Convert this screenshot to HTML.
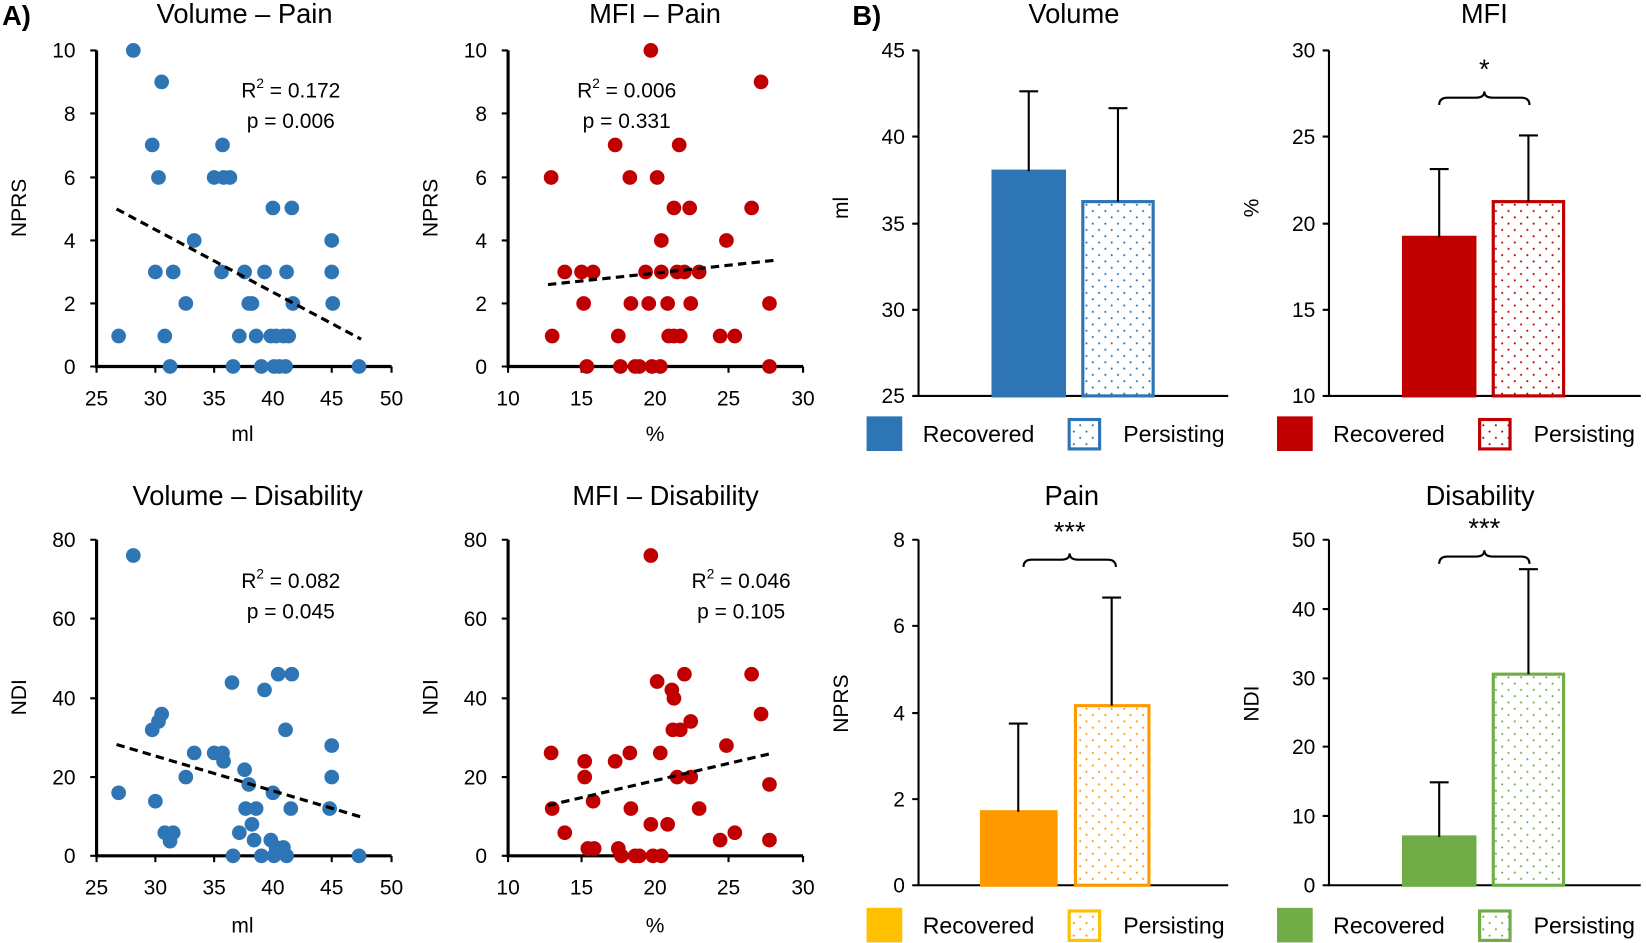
<!DOCTYPE html>
<html><head><meta charset="utf-8"><style>
html,body{margin:0;padding:0;background:#fff}
svg{display:block;font-family:"Liberation Sans",Arial,sans-serif}
</style></head><body>
<svg width="1646" height="943" viewBox="0 0 1568 898" preserveAspectRatio="none" xmlns="http://www.w3.org/2000/svg">
<defs>
<pattern id="pb" width="12" height="12" patternUnits="userSpaceOnUse"><circle cx="3" cy="3" r="1" fill="#2E75B6"/><circle cx="9" cy="9" r="1" fill="#2E75B6"/></pattern>
<pattern id="pr" width="12" height="12" patternUnits="userSpaceOnUse"><circle cx="3" cy="3" r="1" fill="#C00000"/><circle cx="9" cy="9" r="1" fill="#C00000"/></pattern>
<pattern id="po" width="12" height="12" patternUnits="userSpaceOnUse"><circle cx="3" cy="3" r="1" fill="#FF9900"/><circle cx="9" cy="9" r="1" fill="#FF9900"/></pattern>
<pattern id="pg" width="12" height="12" patternUnits="userSpaceOnUse"><circle cx="3" cy="3" r="1" fill="#70AD47"/><circle cx="9" cy="9" r="1" fill="#70AD47"/></pattern>
</defs>
<g font-size="26" fill="#000">
<text x="2" y="24" font-weight="bold">A)</text>
<text x="812" y="24" font-weight="bold">B)</text>
</g>
<g font-size="26" text-anchor="middle">
<text x="233" y="22">Volume – Pain</text>
<text x="624" y="22">MFI – Pain</text>
<text x="236" y="481">Volume – Disability</text>
<text x="634" y="481">MFI – Disability</text>
<text x="1023" y="22">Volume</text>
<text x="1414" y="22">MFI</text>
<text x="1021" y="481">Pain</text>
<text x="1410" y="481">Disability</text>
</g>

<g stroke="#000" stroke-width="3" fill="none">
<path d="M92 48V349H373"/><path d="M484 48V349H765"/>
<path d="M92 514V815H373"/><path d="M484 514V815H765"/>
</g>
<g stroke="#000" stroke-width="2">
<path d="M86 48h6M86 108h6M86 169h6M86 229h6M86 289h6M86 349h6"/>
<path d="M478 48h6M478 108h6M478 169h6M478 229h6M478 289h6M478 349h6"/>
<path d="M86 514h6M86 589h6M86 665h6M86 740h6M86 815h6"/>
<path d="M478 514h6M478 589h6M478 665h6M478 740h6M478 815h6"/>
<path d="M92 349v6M148 349v6M204 349v6M260 349v6M316 349v6M373 349v6"/>
<path d="M484 349v6M554 349v6M624 349v6M694 349v6M765 349v6"/>
<path d="M92 815v6M148 815v6M204 815v6M260 815v6M316 815v6M373 815v6"/>
<path d="M484 815v6M554 815v6M624 815v6M694 815v6M765 815v6"/>
</g>
<g font-size="20" text-anchor="end">
<text x="72" y="55">10</text><text x="72" y="115">8</text><text x="72" y="176">6</text><text x="72" y="236">4</text><text x="72" y="296">2</text><text x="72" y="356">0</text>
<text x="464" y="55">10</text><text x="464" y="115">8</text><text x="464" y="176">6</text><text x="464" y="236">4</text><text x="464" y="296">2</text><text x="464" y="356">0</text>
<text x="72" y="521">80</text><text x="72" y="596">60</text><text x="72" y="672">40</text><text x="72" y="747">20</text><text x="72" y="822">0</text>
<text x="464" y="521">80</text><text x="464" y="596">60</text><text x="464" y="672">40</text><text x="464" y="747">20</text><text x="464" y="822">0</text>
</g>
<g font-size="20" text-anchor="middle">
<text x="92" y="386">25</text><text x="148" y="386">30</text><text x="204" y="386">35</text><text x="260" y="386">40</text><text x="316" y="386">45</text><text x="373" y="386">50</text>
<text x="484" y="386">10</text><text x="554" y="386">15</text><text x="624" y="386">20</text><text x="694" y="386">25</text><text x="765" y="386">30</text>
<text x="92" y="852">25</text><text x="148" y="852">30</text><text x="204" y="852">35</text><text x="260" y="852">40</text><text x="316" y="852">45</text><text x="373" y="852">50</text>
<text x="484" y="852">10</text><text x="554" y="852">15</text><text x="624" y="852">20</text><text x="694" y="852">25</text><text x="765" y="852">30</text>
<text x="231" y="420">ml</text><text x="624" y="420">%</text>
<text x="231" y="888">ml</text><text x="624" y="888">%</text>
<text transform="translate(25,198) rotate(-90)">NPRS</text>
<text transform="translate(417,198) rotate(-90)">NPRS</text>
<text transform="translate(25,664) rotate(-90)">NDI</text>
<text transform="translate(417,664) rotate(-90)">NDI</text>
<text x="277" y="93">R<tspan font-size="13" dy="-9">2</tspan><tspan dy="9"> = 0.172</tspan></text>
<text x="277" y="122">p = 0.006</text>
<text x="597" y="93">R<tspan font-size="13" dy="-9">2</tspan><tspan dy="9"> = 0.006</tspan></text>
<text x="597" y="122">p = 0.331</text>
<text x="277" y="560">R<tspan font-size="13" dy="-9">2</tspan><tspan dy="9"> = 0.082</tspan></text>
<text x="277" y="589">p = 0.045</text>
<text x="706" y="560">R<tspan font-size="13" dy="-9">2</tspan><tspan dy="9"> = 0.046</tspan></text>
<text x="706" y="589">p = 0.105</text>
</g>

<g fill="#2E75B6">
<circle cx="113" cy="320" r="7"/><circle cx="127" cy="48" r="7"/><circle cx="154" cy="78" r="7"/><circle cx="145" cy="138" r="7"/><circle cx="151" cy="169" r="7"/><circle cx="148" cy="259" r="7"/><circle cx="157" cy="320" r="7"/><circle cx="162" cy="349" r="7"/><circle cx="165" cy="259" r="7"/><circle cx="177" cy="289" r="7"/><circle cx="185" cy="229" r="7"/><circle cx="204" cy="169" r="7"/><circle cx="213" cy="169" r="7"/><circle cx="219" cy="169" r="7"/><circle cx="212" cy="138" r="7"/><circle cx="211" cy="259" r="7"/><circle cx="222" cy="349" r="7"/><circle cx="228" cy="320" r="7"/><circle cx="233" cy="259" r="7"/><circle cx="237" cy="289" r="7"/><circle cx="240" cy="289" r="7"/><circle cx="244" cy="320" r="7"/><circle cx="249" cy="349" r="7"/><circle cx="252" cy="259" r="7"/><circle cx="260" cy="198" r="7"/><circle cx="258" cy="320" r="7"/><circle cx="263" cy="320" r="7"/><circle cx="261" cy="349" r="7"/><circle cx="266" cy="349" r="7"/><circle cx="270" cy="320" r="7"/><circle cx="272" cy="349" r="7"/><circle cx="273" cy="259" r="7"/><circle cx="278" cy="198" r="7"/><circle cx="279" cy="289" r="7"/><circle cx="275" cy="320" r="7"/><circle cx="316" cy="229" r="7"/><circle cx="316" cy="259" r="7"/><circle cx="317" cy="289" r="7"/><circle cx="342" cy="349" r="7"/>
<circle cx="113" cy="755" r="7"/><circle cx="127" cy="529" r="7"/><circle cx="145" cy="695" r="7"/><circle cx="151" cy="687" r="7"/><circle cx="154" cy="680" r="7"/><circle cx="148" cy="763" r="7"/><circle cx="157" cy="793" r="7"/><circle cx="162" cy="801" r="7"/><circle cx="165" cy="793" r="7"/><circle cx="185" cy="717" r="7"/><circle cx="177" cy="740" r="7"/><circle cx="204" cy="717" r="7"/><circle cx="212" cy="717" r="7"/><circle cx="213" cy="725" r="7"/><circle cx="221" cy="650" r="7"/><circle cx="228" cy="793" r="7"/><circle cx="222" cy="815" r="7"/><circle cx="233" cy="733" r="7"/><circle cx="237" cy="747" r="7"/><circle cx="234" cy="770" r="7"/><circle cx="240" cy="785" r="7"/><circle cx="242" cy="800" r="7"/><circle cx="244" cy="770" r="7"/><circle cx="249" cy="815" r="7"/><circle cx="252" cy="657" r="7"/><circle cx="260" cy="755" r="7"/><circle cx="258" cy="800" r="7"/><circle cx="261" cy="815" r="7"/><circle cx="263" cy="807" r="7"/><circle cx="265" cy="642" r="7"/><circle cx="270" cy="807" r="7"/><circle cx="273" cy="815" r="7"/><circle cx="278" cy="642" r="7"/><circle cx="272" cy="695" r="7"/><circle cx="277" cy="770" r="7"/><circle cx="316" cy="710" r="7"/><circle cx="316" cy="740" r="7"/><circle cx="314" cy="770" r="7"/><circle cx="342" cy="815" r="7"/>
</g>
<g fill="#C00000">
<circle cx="525" cy="169" r="7"/><circle cx="526" cy="320" r="7"/><circle cx="538" cy="259" r="7"/><circle cx="554" cy="259" r="7"/><circle cx="559" cy="349" r="7"/><circle cx="565" cy="259" r="7"/><circle cx="556" cy="289" r="7"/><circle cx="586" cy="138" r="7"/><circle cx="589" cy="320" r="7"/><circle cx="591" cy="349" r="7"/><circle cx="600" cy="169" r="7"/><circle cx="601" cy="289" r="7"/><circle cx="605" cy="349" r="7"/><circle cx="609" cy="349" r="7"/><circle cx="620" cy="48" r="7"/><circle cx="626" cy="169" r="7"/><circle cx="615" cy="259" r="7"/><circle cx="621" cy="349" r="7"/><circle cx="629" cy="349" r="7"/><circle cx="630" cy="229" r="7"/><circle cx="618" cy="289" r="7"/><circle cx="630" cy="259" r="7"/><circle cx="636" cy="289" r="7"/><circle cx="637" cy="320" r="7"/><circle cx="642" cy="198" r="7"/><circle cx="645" cy="259" r="7"/><circle cx="642" cy="320" r="7"/><circle cx="647" cy="138" r="7"/><circle cx="648" cy="320" r="7"/><circle cx="652" cy="259" r="7"/><circle cx="657" cy="198" r="7"/><circle cx="658" cy="289" r="7"/><circle cx="666" cy="259" r="7"/><circle cx="686" cy="320" r="7"/><circle cx="692" cy="229" r="7"/><circle cx="700" cy="320" r="7"/><circle cx="716" cy="198" r="7"/><circle cx="725" cy="78" r="7"/><circle cx="733" cy="289" r="7"/><circle cx="733" cy="349" r="7"/>
<circle cx="525" cy="717" r="7"/><circle cx="526" cy="770" r="7"/><circle cx="538" cy="793" r="7"/><circle cx="557" cy="725" r="7"/><circle cx="557" cy="740" r="7"/><circle cx="560" cy="808" r="7"/><circle cx="566" cy="808" r="7"/><circle cx="565" cy="763" r="7"/><circle cx="586" cy="725" r="7"/><circle cx="589" cy="808" r="7"/><circle cx="592" cy="815" r="7"/><circle cx="600" cy="717" r="7"/><circle cx="601" cy="770" r="7"/><circle cx="605" cy="815" r="7"/><circle cx="609" cy="815" r="7"/><circle cx="620" cy="529" r="7"/><circle cx="626" cy="649" r="7"/><circle cx="622" cy="815" r="7"/><circle cx="629" cy="717" r="7"/><circle cx="630" cy="815" r="7"/><circle cx="636" cy="785" r="7"/><circle cx="640" cy="657" r="7"/><circle cx="641" cy="695" r="7"/><circle cx="645" cy="740" r="7"/><circle cx="642" cy="665" r="7"/><circle cx="648" cy="695" r="7"/><circle cx="652" cy="642" r="7"/><circle cx="658" cy="687" r="7"/><circle cx="658" cy="740" r="7"/><circle cx="666" cy="770" r="7"/><circle cx="686" cy="800" r="7"/><circle cx="692" cy="710" r="7"/><circle cx="700" cy="793" r="7"/><circle cx="716" cy="642" r="7"/><circle cx="725" cy="680" r="7"/><circle cx="733" cy="747" r="7"/><circle cx="733" cy="800" r="7"/><circle cx="620" cy="785" r="7"/>
</g>
<g stroke="#000" stroke-width="3" stroke-dasharray="8,5">
<path d="M111 199L344 323"/><path d="M522 271L737 248"/><path d="M111 709L344 778"/><path d="M522 767L737 717"/>
</g>

<g stroke="#000" stroke-width="2" fill="none">
<path d="M875 48V377H1170"/><path d="M1266 48V377H1563"/>
<path d="M875 514V843H1170"/><path d="M1266 514V843H1563"/>
<path d="M869 48h6M869 130h6M869 213h6M869 295h6M869 377h6"/>
<path d="M1260 48h6M1260 130h6M1260 213h6M1260 295h6M1260 377h6"/>
<path d="M869 514h6M869 596h6M869 679h6M869 761h6M869 843h6"/>
<path d="M1260 514h6M1260 580h6M1260 646h6M1260 711h6M1260 777h6M1260 843h6"/>
</g>
<g font-size="20" text-anchor="end">
<text x="862" y="55">45</text><text x="862" y="137">40</text><text x="862" y="220">35</text><text x="862" y="302">30</text><text x="862" y="384">25</text>
<text x="1253" y="55">30</text><text x="1253" y="137">25</text><text x="1253" y="220">20</text><text x="1253" y="302">15</text><text x="1253" y="384">10</text>
<text x="862" y="521">8</text><text x="862" y="603">6</text><text x="862" y="686">4</text><text x="862" y="768">2</text><text x="862" y="850">0</text>
<text x="1253" y="521">50</text><text x="1253" y="587">40</text><text x="1253" y="653">30</text><text x="1253" y="718">20</text><text x="1253" y="784">10</text><text x="1253" y="850">0</text>
</g>
<g font-size="20" text-anchor="middle">
<text transform="translate(808,198) rotate(-90)">ml</text>
<text transform="translate(1199,198) rotate(-90)">%</text>
<text transform="translate(808,670) rotate(-90)">NPRS</text>
<text transform="translate(1199,670) rotate(-90)">NDI</text>
</g>
<g stroke-width="3">
<rect x="946" y="163" width="68" height="214" fill="#2E75B6" stroke="#2E75B6"/>
<rect x="1031.5" y="192" width="67" height="185" fill="url(#pb)" stroke="#2E75B6"/>
<rect x="1337" y="226" width="68" height="151" fill="#C00000" stroke="#C00000"/>
<rect x="1422.5" y="192" width="67" height="185" fill="url(#pr)" stroke="#C00000"/>
<rect x="935" y="773" width="71" height="70" fill="#FF9900" stroke="#FF9900"/>
<rect x="1024.5" y="672" width="70" height="171" fill="url(#po)" stroke="#FF9900"/>
<rect x="1337" y="797" width="68" height="46" fill="#70AD47" stroke="#70AD47"/>
<rect x="1422.5" y="642" width="67" height="201" fill="url(#pg)" stroke="#70AD47"/>
</g>
<g stroke="#000" stroke-width="2" fill="none">
<path d="M980 163V87M971 87h18"/><path d="M1065 192V103M1056 103h18"/>
<path d="M1371 226V161M1362 161h18"/><path d="M1456 192V129M1447 129h18"/>
<path d="M970 773V689M961 689h18"/><path d="M1059 672V569M1050 569h18"/>
<path d="M1371 797V745M1362 745h18"/><path d="M1456 642V542M1447 542h18"/>
<path d="M1371 100q0-7 8-7h27q8 0 8-6q0 6 8 6h27q8 0 8 7"/>
<path d="M975 540q0-7 8-7h28q8 0 8-6q0 6 8 6h28q8 0 8 7"/>
<path d="M1371 537q0-7 8-7h27q8 0 8-6q0 6 8 6h27q8 0 8 7"/>
</g>
<g font-size="26" text-anchor="middle">
<text x="1414" y="75">*</text>
<text x="1019" y="515">***</text>
<text x="1414" y="512">***</text>
</g>
<g stroke-width="3">
<rect x="827" y="398" width="31" height="30" fill="#2E75B6" stroke="#2E75B6"/>
<rect x="1018.5" y="399.5" width="29" height="28" fill="url(#pb)" stroke="#2E75B6"/>
<rect x="1218" y="398" width="31" height="30" fill="#C00000" stroke="#C00000"/>
<rect x="1409.5" y="399.5" width="29" height="28" fill="url(#pr)" stroke="#C00000"/>
<rect x="827" y="866" width="31" height="30" fill="#FFC000" stroke="#FFC000"/>
<rect x="1018.5" y="867.5" width="29" height="28" fill="url(#po)" stroke="#FFC000"/>
<rect x="1218" y="866" width="31" height="30" fill="#70AD47" stroke="#70AD47"/>
<rect x="1409.5" y="867.5" width="29" height="28" fill="url(#pg)" stroke="#70AD47"/>
</g>
<g font-size="22">
<text x="879" y="421">Recovered</text><text x="1070" y="421">Persisting</text>
<text x="1270" y="421">Recovered</text><text x="1461" y="421">Persisting</text>
<text x="879" y="889">Recovered</text><text x="1070" y="889">Persisting</text>
<text x="1270" y="889">Recovered</text><text x="1461" y="889">Persisting</text>
</g>
</svg>
</body></html>
